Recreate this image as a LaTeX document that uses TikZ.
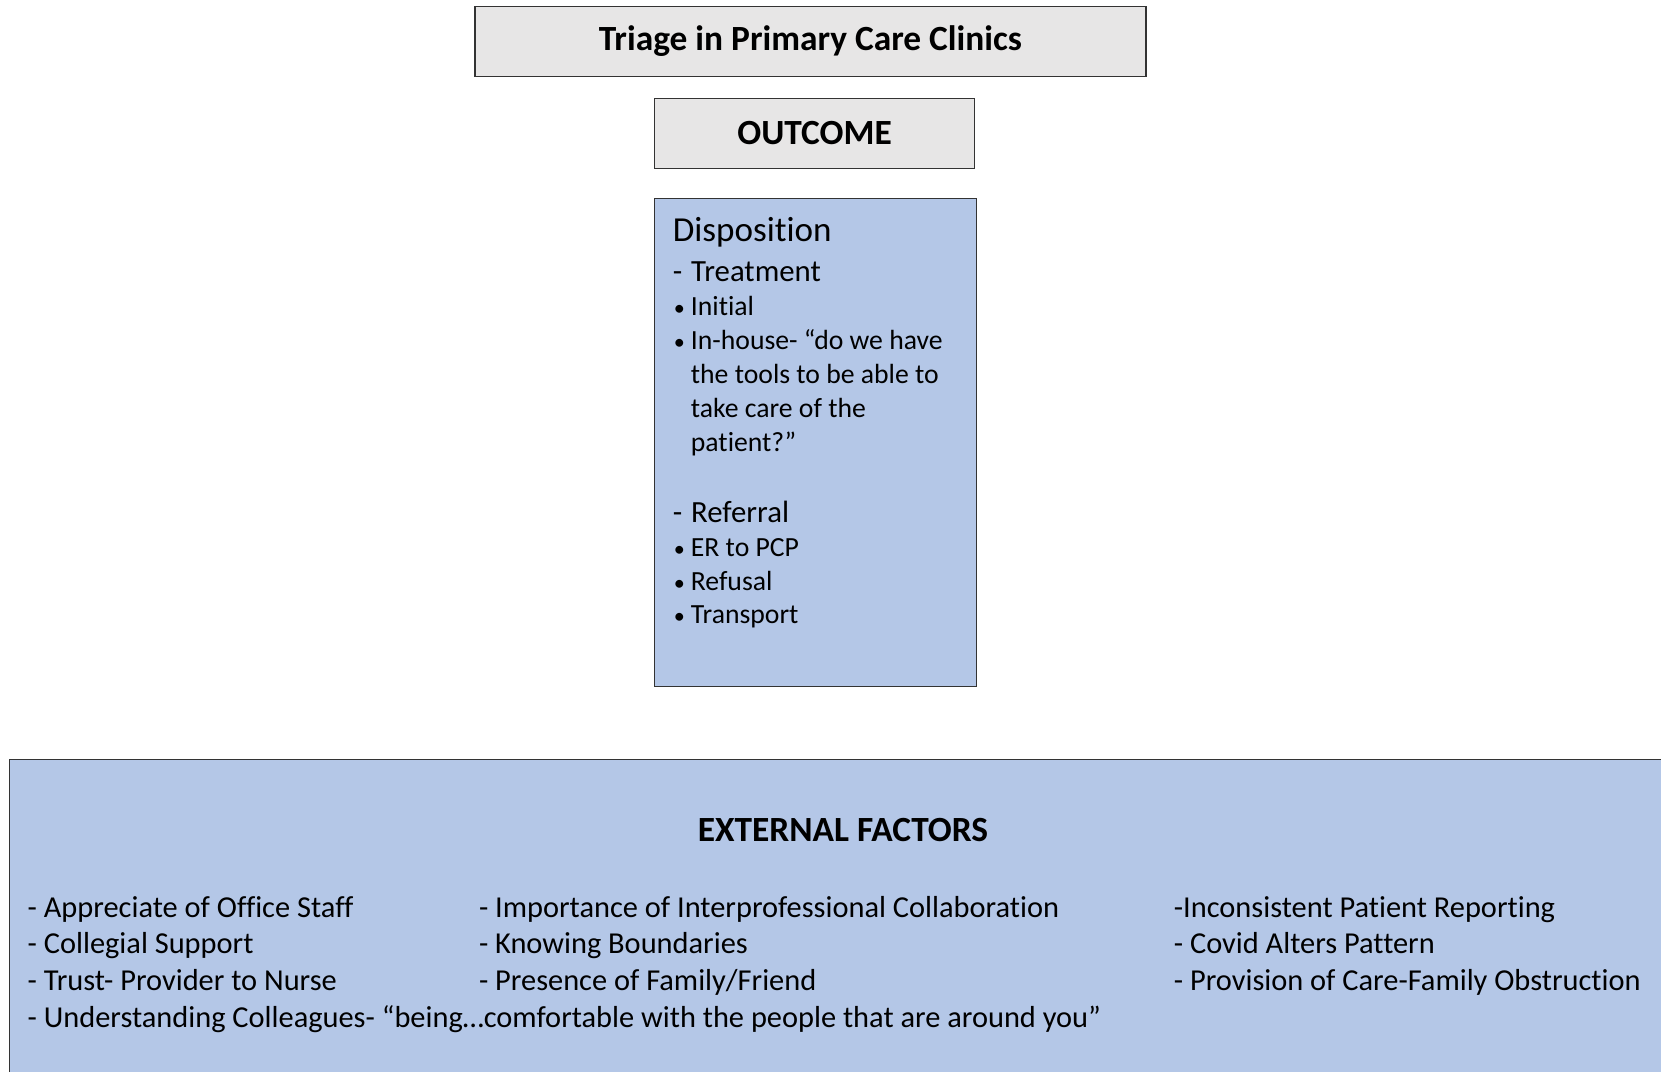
\documentclass[tikz,border=0pt]{standalone}
\usepackage{fontspec}
\setmainfont{Carlito}[Ligatures=NoCommon]
\usetikzlibrary{positioning}

\definecolor{boxgrey}{HTML}{E7E6E6}
\definecolor{boxblue}{HTML}{B4C7E7}

\newcommand{\bul}{\makebox[18.1pt][l]{\hspace{1pt}\scalebox{0.8}{•}}}

\tikzset{
  greybox/.style={draw=black!80, fill=boxgrey, line width=1.3pt, inner sep=0pt,
    font=\fontsize{35.4}{42}\selectfont\bfseries},
  bluebox/.style={draw=black!80, fill=boxblue, line width=1.3pt, inner sep=0pt},
  item/.style={anchor=base west, inner sep=0pt, font=\fontsize{27.7}{34}\selectfont},
  factor/.style={anchor=base west, inner sep=0pt, font=\fontsize{30.4}{36}\selectfont},
}

\begin{document}
\begin{tikzpicture}[x=1pt,y=-1pt]
  \useasboundingbox (0,0) rectangle (1661,1071);
  \clip (0,0) rectangle (1661,1071);

  % headings
  \node [greybox, minimum width=671, minimum height=70] (title) at (810.4,41.3)
        {Triage in Primary Care Clinics};
  \node [greybox, minimum width=320, minimum height=70] (outcome) at (814.6,133.5)
        {OUTCOME};

  % disposition box
  \node [bluebox, minimum width=322, minimum height=488] (disp) at (815.6,442.2) {};
  \node [item, font=\fontsize{35.1}{42}\selectfont] (dhead) at (672.6,241.5) {Disposition};
  \node [item, font=\fontsize{30.8}{36}\selectfont] (treat) at (672.6,281.8) {-\hspace{9pt}Treatment};
  \node [item, font=\fontsize{30.8}{36}\selectfont] (refer) at (672.6,522.2) {-\hspace{9pt}Referral};
  \foreach \y/\t [count=\i] in {315.7/Initial, 349.6/In-house- “do we have,
      556.1/ER to PCP, 590.0/Refusal, 623.9/Transport}
    \node [item] (bullet\i) at (672.6,\y) {\bul\t};
  \foreach \y/\t [count=\i] in {383.5/the tools to be able to,
      417.4/take care of the, 451.3/patient?”}
    \node [item] (wrap\i) at (690.7,\y) {\t};

  % external factors
  \node [bluebox, anchor=north west, minimum width=1700, minimum height=400] (ext) at (8.5,758.5) {};
  \node [anchor=base, inner sep=0pt, font=\fontsize{35.4}{42}\selectfont\bfseries] (exthead)
        at (843,841) {EXTERNAL FACTORS};

  \node [factor] (f1) at (27.5,917.4) {- Appreciate of Office Staff};
  \node [factor] (f2) at (27.5,953.4) {- Collegial Support};
  \node [factor] (f3) at (27.5,990.5) {- Trust- Provider to Nurse};
  \node [factor] (f4) at (27.5,1027.5) {- Understanding Colleagues- “being…comfortable with the people that are around you”};
  \node [factor] (f5) at (478.8,917.4) {- Importance of Interprofessional Collaboration};
  \node [factor] (f6) at (478.8,953.4) {- Knowing Boundaries};
  \node [factor] (f7) at (478.8,990.5) {- Presence of Family/Friend};
  \node [factor] (f8) at (1173.7,917.4) {-Inconsistent Patient Reporting};
  \node [factor] (f9) at (1173.7,953.4) {- Covid Alters Pattern};
  \node [factor] (f10) at (1173.7,990.5) {- Provision of Care-Family Obstruction};
\end{tikzpicture}
\end{document}
